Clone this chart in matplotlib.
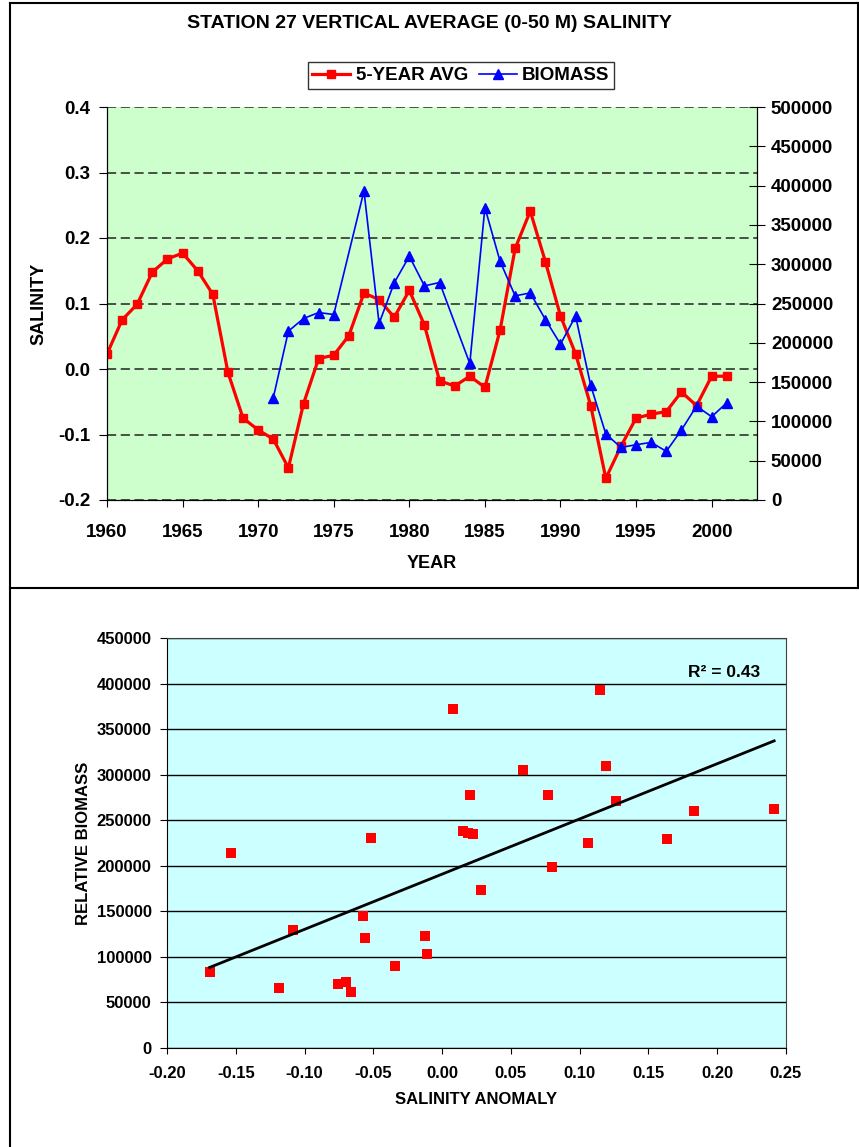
import numpy as np
import matplotlib
matplotlib.use("Agg")
import matplotlib.pyplot as plt
from matplotlib.lines import Line2D
from matplotlib.ticker import MultipleLocator, FormatStrFormatter

plt.rcParams['font.family'] = ['Liberation Sans', 'DejaVu Sans']
plt.rcParams['font.weight'] = 'bold'

# --- top chart: 5-year average salinity and biomass ---
years = list(range(1960, 2002))
sal_avg = [0.023, 0.075, 0.099, 0.148, 0.168, 0.177, 0.150, 0.114, -0.005, -0.075,
           -0.093, -0.107, -0.151, -0.053, 0.016, 0.021, 0.051, 0.116, 0.106, 0.079,
           0.120, 0.067, -0.018, -0.026, -0.011, -0.028, 0.059, 0.184, 0.241, 0.164,
           0.081, 0.023, -0.056, -0.167, -0.118, -0.075, -0.069, -0.065, -0.035, -0.056,
           -0.011, -0.011]
bio_years = [1971, 1972, 1973, 1974, 1975, 1977, 1978, 1979, 1980, 1981, 1982,
             1984, 1985, 1986, 1987, 1988, 1989, 1990, 1991, 1992, 1993, 1994,
             1995, 1996, 1997, 1998, 1999, 2000, 2001]
biomass = [130000, 214800, 230900, 238500, 236000, 393200, 224600, 276300, 310100,
           272400, 276700, 173700, 372000, 303800, 259700, 263500, 229600, 198300,
           233900, 145800, 83900, 66900, 70300, 73300, 61900, 89000, 119500, 105900,
           123700]

# --- bottom chart: salinity anomaly vs relative biomass ---
sal_anom = [-0.169, -0.1535, -0.1186, -0.1084, -0.0757, -0.0699, -0.0663, -0.0576,
            -0.0559, -0.0517, -0.0343, -0.0125, -0.0110, 0.0078, 0.0151, 0.0185,
            0.0223, 0.0204, 0.0282, 0.0587, 0.0771, 0.0800, 0.1062, 0.1149, 0.1190,
            0.1263, 0.1636, 0.1832, 0.2414]
rel_bio = [83300, 214400, 65400, 129700, 69800, 72700, 61700, 144700, 120200, 230900,
           89500, 122400, 103700, 372600, 238500, 236400, 235300, 277600, 173900,
           305000, 277600, 198700, 225400, 393100, 309800, 271000, 229800, 260100,
           262300]

W, H = 859, 1147
fig = plt.figure(figsize=(W / 100, H / 100), dpi=100)

def fx(px):
    return px / W

def fy(py):
    return 1 - py / H

# frames around the two chart objects
for xs, ys in [([10, 10], [3, H]), ([10, 858], [3, 3]), ([858, 858], [3, 588]),
               ([10, W], [588, 588])]:
    fig.add_artist(Line2D([fx(x) for x in xs], [fy(y) for y in ys],
                          color='black', lw=1.5))

# ---------- top ----------
ax = fig.add_axes([fx(107), fy(500), fx(650), 393 / H])
ax.set_facecolor('#CCFFCC')
l1, = ax.plot(years, sal_avg, color='#FF0000', lw=2.3, marker='s', ms=6,
              label='5-YEAR AVG', zorder=3)
ax.set_xlim(1960, 2003)
ax.set_ylim(-0.2, 0.4)
ax.yaxis.set_major_locator(MultipleLocator(0.1))
ax.yaxis.set_major_formatter(FormatStrFormatter('%.1f'))
ax.xaxis.set_major_locator(MultipleLocator(5))
ax.grid(axis='y', color='#222222', ls=(0, (6, 3)), lw=1.1)
ax.spines['top'].set_visible(False)
ax.tick_params(axis='y', direction='out', length=6, pad=6, labelsize=13.5)
ax.tick_params(axis='x', direction='out', length=5, pad=12, labelsize=13.5)
ax.set_xlabel('YEAR', fontsize=13, fontweight='bold', labelpad=10)
ax.set_ylabel('SALINITY', fontsize=13, fontweight='bold', labelpad=8)

ax2 = ax.twinx()
l2, = ax2.plot(bio_years, biomass, color='#0000FF', lw=1.2, marker='^', ms=7,
               label='BIOMASS')
ax2.set_ylim(0, 500000)
ax2.yaxis.set_major_locator(MultipleLocator(50000))
ax2.spines['top'].set_visible(False)
ax2.tick_params(axis='y', direction='inout', length=12, pad=4, labelsize=13.5)

fig.text(0.5, fy(23), 'STATION 27 VERTICAL AVERAGE (0-50 M) SALINITY',
         ha='center', va='center', fontsize=14, fontweight='bold')
leg = fig.legend(handles=[l1, l2], loc='center', ncol=2,
                 bbox_to_anchor=(fx(461), fy(75.5)), fontsize=13.5, frameon=True,
                 fancybox=False, edgecolor='black', borderpad=0.25,
                 handlelength=2.0, handletextpad=0.3, columnspacing=0.6)
leg.get_frame().set_linewidth(1.0)

# ---------- bottom ----------
bx = fig.add_axes([fx(167), fy(1048), fx(619), 410 / H])
bx.set_facecolor('#CCFFFF')
bx.scatter(sal_anom, rel_bio, marker='s', s=45, color='#FF0000', zorder=3,
           linewidths=0)
slope, icpt = np.polyfit(sal_anom, rel_bio, 1)
tx = np.array([min(sal_anom), max(sal_anom)])
bx.plot(tx, slope * tx + icpt, color='black', lw=2, zorder=4)
bx.set_xlim(-0.2, 0.25)
bx.set_ylim(0, 450000)
bx.xaxis.set_major_locator(MultipleLocator(0.05))
bx.xaxis.set_major_formatter(FormatStrFormatter('%.2f'))
bx.yaxis.set_major_locator(MultipleLocator(50000))
bx.grid(axis='y', color='black', lw=1.0)
bx.set_axisbelow(True)
for s in ['top', 'right']:
    bx.spines[s].set_color('#404040')
bx.tick_params(axis='y', direction='out', length=5, pad=6, labelsize=12)
bx.tick_params(axis='x', direction='out', length=4, pad=9, labelsize=12)
bx.set_xlabel('SALINITY ANOMALY', fontsize=12, fontweight='bold', labelpad=8)
bx.set_ylabel('RELATIVE BIOMASS', fontsize=12, fontweight='bold', labelpad=4)
bx.text(0.231, 412000, 'R² = 0.43', ha='right', va='center', fontsize=12.5,
        fontweight='bold')

fig.savefig('out.png', dpi=100)
